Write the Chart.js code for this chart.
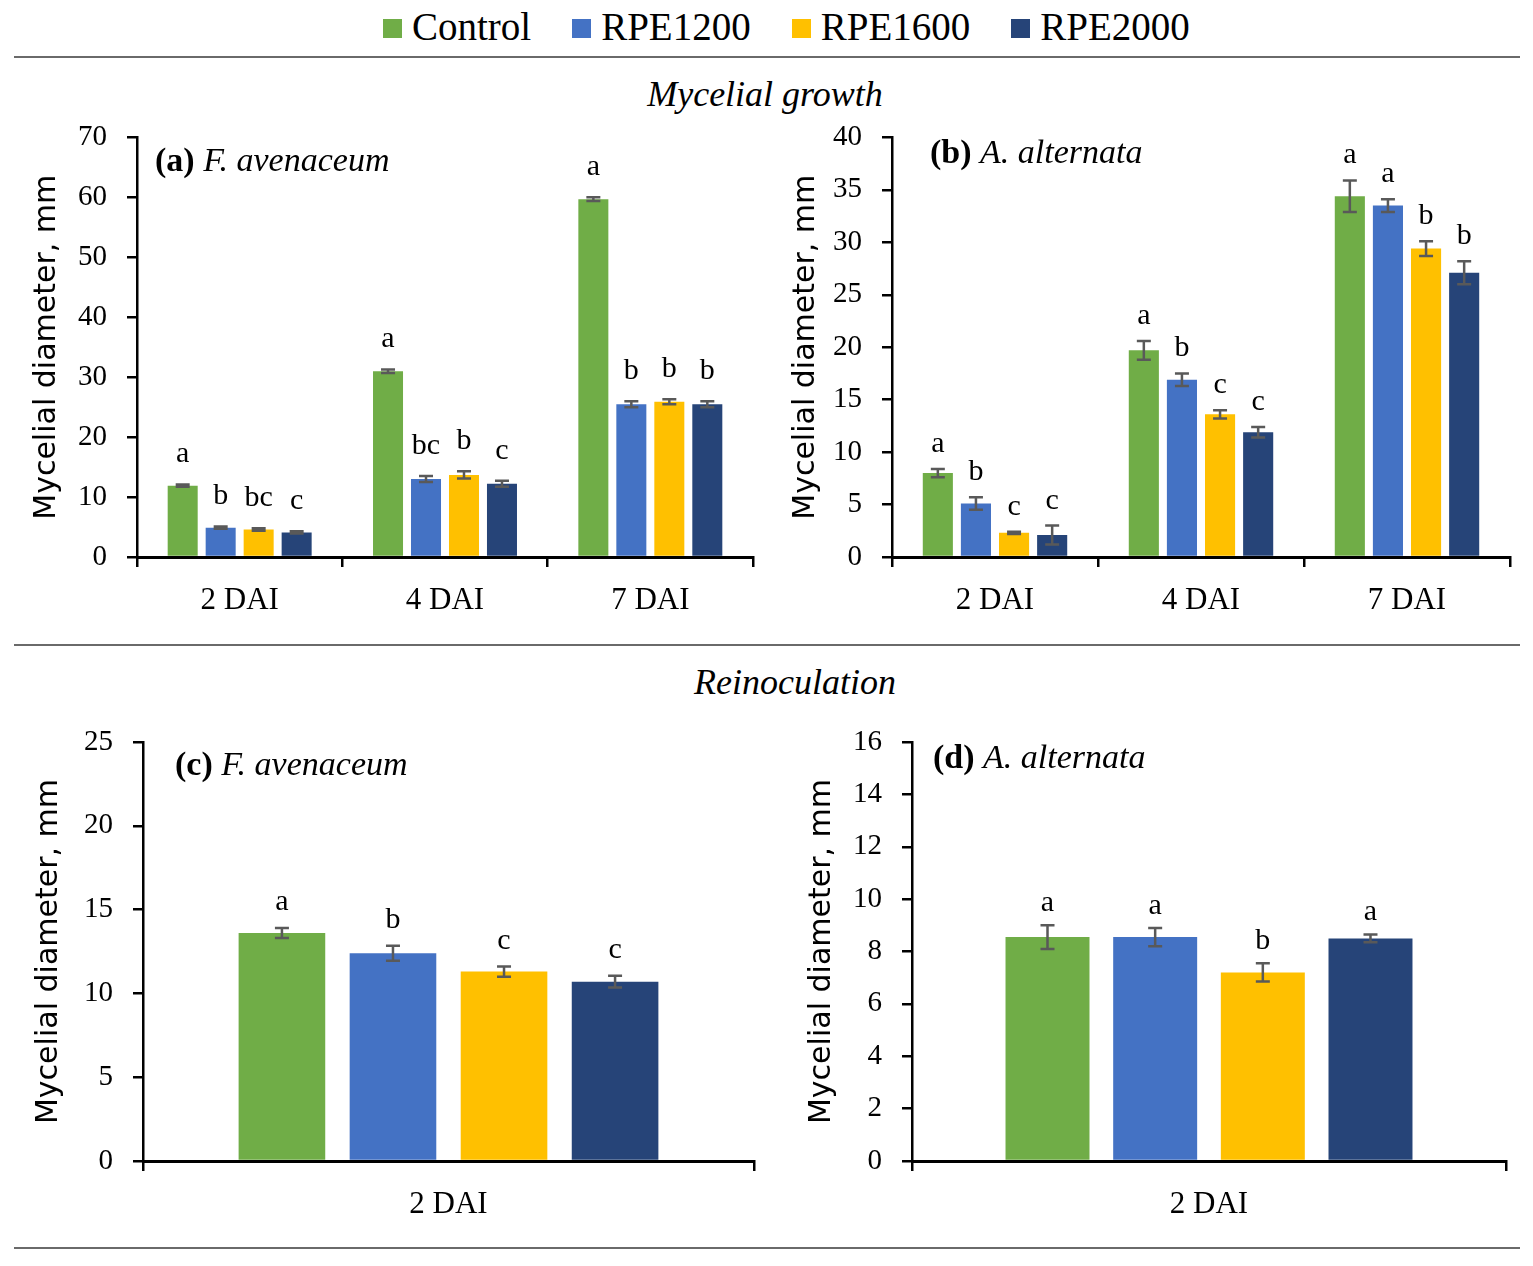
<!DOCTYPE html>
<html><head><meta charset="utf-8">
<script src="https://cdn.jsdelivr.net/npm/chart.js@4"></script>
<style>
body{margin:0;background:#fff;width:1533px;height:1266px;position:relative;overflow:hidden;font-family:"Liberation Serif",serif;color:#000}
canvas{position:absolute}
.rule{position:absolute;left:14px;width:1506px;height:2px;background:#6a6a6a}
.sect{position:absolute;font-style:italic;font-size:36px;line-height:36px;white-space:nowrap;transform:translateX(-50%)}
#legend{position:absolute;left:383px;top:7px;display:flex;align-items:center;font-size:39px;line-height:39px;white-space:nowrap}
#legend .item{display:flex;align-items:center;margin-right:41px}
#legend .sw{width:19px;height:19px;margin-right:10px;margin-top:4px}
</style>
</head><body>
<div id="legend"></div>
<div class="rule" style="top:56px"></div>
<div class="sect" style="left:765px;top:76px">Mycelial growth</div>
<div class="rule" style="top:644px"></div>
<div class="sect" style="left:795px;top:664px">Reinoculation</div>
<div class="rule" style="top:1247px"></div>
<canvas id="ca" width="770" height="540" style="left:0;top:100px"></canvas>
<canvas id="cb" width="763" height="540" style="left:770px;top:100px"></canvas>
<canvas id="cc" width="770" height="540" style="left:0;top:700px"></canvas>
<canvas id="cd" width="763" height="540" style="left:770px;top:700px"></canvas>
<script>
// ---- shared ----
const seriesNames = ['Control', 'RPE1200', 'RPE1600', 'RPE2000'];
const seriesColors = ['#70AD47', '#4472C4', '#FFC000', '#264478'];
const growthDays = ['2 DAI', '4 DAI', '7 DAI'];
const reinocDays = ['2 DAI'];
const yTitle = 'Mycelial diameter, mm';

// ---- (a) F. avenaceum, mycelial growth ----
const aControl = [11.9, 31.0, 59.7];
const aRPE1200 = [4.9, 13.0, 25.5];
const aRPE1600 = [4.6, 13.7, 25.9];
const aRPE2000 = [4.1, 12.2, 25.5];
const aErrControl = [0.2, 0.3, 0.3];
const aErrRPE1200 = [0.2, 0.5, 0.5];
const aErrRPE1600 = [0.2, 0.6, 0.4];
const aErrRPE2000 = [0.2, 0.5, 0.5];
const aLetControl = ['a', 'a', 'a'];
const aLetRPE1200 = ['b', 'bc', 'b'];
const aLetRPE1600 = ['bc', 'b', 'b'];
const aLetRPE2000 = ['c', 'c', 'b'];

// ---- (b) A. alternata, mycelial growth ----
const bControl = [8.0, 19.7, 34.4];
const bRPE1200 = [5.1, 16.9, 33.5];
const bRPE1600 = [2.3, 13.6, 29.4];
const bRPE2000 = [2.1, 11.9, 27.1];
const bErrControl = [0.4, 0.9, 1.5];
const bErrRPE1200 = [0.6, 0.6, 0.6];
const bErrRPE1600 = [0.1, 0.4, 0.7];
const bErrRPE2000 = [0.9, 0.5, 1.1];
const bLetControl = ['a', 'a', 'a'];
const bLetRPE1200 = ['b', 'b', 'a'];
const bLetRPE1600 = ['c', 'c', 'b'];
const bLetRPE2000 = ['c', 'c', 'b'];

// ---- (c) F. avenaceum, reinoculation ----
const cControl = [13.6];
const cRPE1200 = [12.4];
const cRPE1600 = [11.3];
const cRPE2000 = [10.7];
const cErr = [[0.3], [0.45], [0.3], [0.35]];
const cLet = [['a'], ['b'], ['c'], ['c']];

// ---- (d) A. alternata, reinoculation ----
const dControl = [8.55];
const dRPE1200 = [8.55];
const dRPE1600 = [7.2];
const dRPE2000 = [8.5];
const dErr = [[0.45], [0.35], [0.35], [0.15]];
const dLet = [['a'], ['a'], ['b'], ['a']];

// ---- ticks ----
const aTicks = {max: 70, step: 10};
const bTicks = {max: 40, step: 5};
const cTicks = {max: 25, step: 5};
const dTicks = {max: 16, step: 2};

// legend
const lg = document.getElementById('legend');
seriesNames.forEach((n, i) => {
  const it = document.createElement('div'); it.className = 'item';
  const sw = document.createElement('div'); sw.className = 'sw'; sw.style.background = seriesColors[i];
  const tx = document.createElement('span'); tx.textContent = n;
  it.appendChild(sw); it.appendChild(tx); lg.appendChild(it);
});

const SERIF = 'Liberation Serif';

const annot = {
  id: 'annot',
  afterDatasetsDraw(chart, args, opts) {
    const ctx = chart.ctx, y = chart.scales.y;
    ctx.save();
    chart.data.datasets.forEach((ds, i) => {
      const meta = chart.getDatasetMeta(i);
      meta.data.forEach((bar, j) => {
        const v = ds.data[j], e = opts.errors[i][j];
        const yt = y.getPixelForValue(v + e), yb = y.getPixelForValue(v - e);
        ctx.strokeStyle = '#595959'; ctx.lineWidth = 2.5;
        ctx.beginPath();
        ctx.moveTo(bar.x, yt); ctx.lineTo(bar.x, yb);
        ctx.moveTo(bar.x - opts.cap, yt); ctx.lineTo(bar.x + opts.cap, yt);
        ctx.moveTo(bar.x - opts.cap, yb); ctx.lineTo(bar.x + opts.cap, yb);
        ctx.stroke();
        ctx.fillStyle = '#000';
        ctx.font = '30px "' + SERIF + '"';
        ctx.textAlign = 'center'; ctx.textBaseline = 'alphabetic';
        ctx.fillText(opts.letters[i][j], bar.x, yt - opts.gap);
      });
    });
    // panel label
    const a = chart.chartArea;
    const px = a.left + opts.label.dx, py = a.top + opts.label.dy;
    ctx.textAlign = 'left'; ctx.textBaseline = 'alphabetic'; ctx.fillStyle = '#000';
    ctx.font = 'bold 34px "' + SERIF + '"';
    ctx.fillText(opts.label.bold, px, py);
    const w = ctx.measureText(opts.label.bold + ' ').width;
    ctx.font = 'italic 34px "' + SERIF + '"';
    ctx.fillText(opts.label.italic, px + w, py);
    ctx.restore();
  }
};

function makeChart(id, p) {
  const datasets = p.values.map((vals, i) => ({
    label: seriesNames[i], data: vals, backgroundColor: seriesColors[i],
    borderWidth: 0, categoryPercentage: p.cp, barPercentage: p.bp
  }));
  return new Chart(document.getElementById(id), {
    type: 'bar',
    data: {labels: p.labels, datasets},
    plugins: [annot],
    options: {
      responsive: false, animation: false,
      layout: {padding: {top: p.padTop, right: p.padRight, left: 0, bottom: 0}},
      plugins: {
        legend: {display: false}, tooltip: {enabled: false},
        annot: {errors: p.errors, letters: p.letters, gap: p.gap, cap: 7, label: p.label}
      },
      scales: {
        x: {
          grid: {display: true, drawOnChartArea: false, drawTicks: true, tickLength: 10, color: '#000', lineWidth: 2.5, offset: true},
          border: {display: true, color: '#000', width: 3},
          ticks: {color: '#000', font: {family: SERIF, size: 31}, padding: 15},
          afterFit: s => { s.height = p.xh; }
        },
        y: {
          min: 0, max: p.ticks.max,
          ticks: {stepSize: p.ticks.step, color: '#000', font: {family: SERIF, size: 29}, padding: 20},
          grid: {display: true, drawOnChartArea: false, drawTicks: true, tickLength: 10, color: '#000', lineWidth: 2.5},
          border: {display: true, color: '#000', width: 2.5},
          title: {display: true, text: yTitle, color: '#000', font: {family: 'DejaVu Sans', size: 30}, padding: {top: p.titlePad, bottom: 0}},
          afterFit: s => { s.width = p.yw; }
        }
      }
    }
  });
}

makeChart('ca', {
  labels: growthDays, values: [aControl, aRPE1200, aRPE1600, aRPE2000],
  errors: [aErrControl, aErrRPE1200, aErrRPE1600, aErrRPE2000],
  letters: [aLetControl, aLetRPE1200, aLetRPE1600, aLetRPE2000],
  ticks: aTicks, cp: 0.74, bp: 0.79, padTop: 37, padRight: 17, xh: 83, yw: 137, titlePad: 29, gap: 22,
  label: {bold: '(a)', italic: 'F. avenaceum', dx: 18, dy: 34}
});
makeChart('cb', {
  labels: growthDays, values: [bControl, bRPE1200, bRPE1600, bRPE2000],
  errors: [bErrControl, bErrRPE1200, bErrRPE1600, bErrRPE2000],
  letters: [bLetControl, bLetRPE1200, bLetRPE1600, bLetRPE2000],
  ticks: bTicks, cp: 0.74, bp: 0.79, padTop: 37, padRight: 23, xh: 83, yw: 122, titlePad: 18, gap: 17,
  label: {bold: '(b)', italic: 'A. alternata', dx: 38, dy: 26}
});
makeChart('cc', {
  labels: reinocDays, values: [cControl, cRPE1200, cRPE1600, cRPE2000],
  errors: cErr, letters: cLet,
  ticks: cTicks, cp: 0.727, bp: 0.78, padTop: 42, padRight: 16, xh: 79, yw: 143, titlePad: 31, gap: 18,
  label: {bold: '(c)', italic: 'F. avenaceum', dx: 32, dy: 33}
});
makeChart('cd', {
  labels: reinocDays, values: [dControl, dRPE1200, dRPE1600, dRPE2000],
  errors: dErr, letters: dLet,
  ticks: dTicks, cp: 0.725, bp: 0.78, padTop: 42, padRight: 27, xh: 79, yw: 142, titlePad: 34, gap: 14,
  label: {bold: '(d)', italic: 'A. alternata', dx: 21, dy: 26}
});
</script>
</body></html>
